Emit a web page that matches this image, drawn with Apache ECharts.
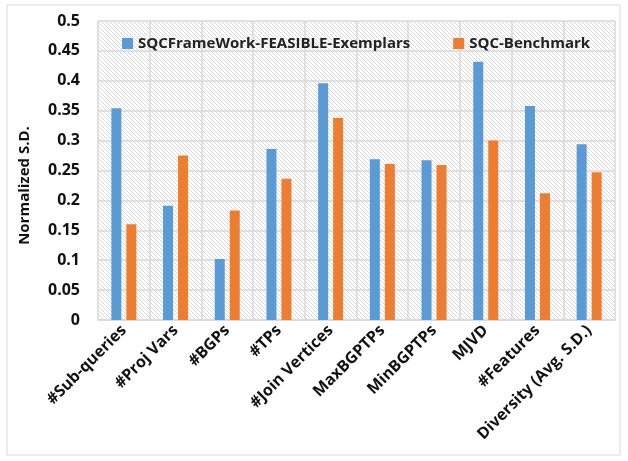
<!DOCTYPE html>
<html><head><meta charset="utf-8">
<script src="https://cdn.jsdelivr.net/npm/echarts@6/dist/echarts.min.js"></script>
<style>html,body{margin:0;padding:0;background:#fff}#c{width:628px;height:461px}</style>
</head><body><div id="c"></div>
<script>
const categories = ['#Sub-queries','#Proj Vars','#BGPs','#TPs','#Join Vertices','MaxBGPTPs','MinBGPTPs','MJVD','#Features','Diversity (Avg. S.D.)'];
const feasible = [0.354,0.191,0.102,0.286,0.396,0.269,0.267,0.432,0.358,0.294];
const benchmark = [0.160,0.275,0.183,0.236,0.338,0.261,0.259,0.300,0.212,0.247];
const yTicks = ['0','0.05','0.1','0.15','0.2','0.25','0.3','0.35','0.4','0.45','0.5'];

const pc = document.createElement('canvas');
pc.width = 4; pc.height = 4;
const g = pc.getContext('2d');
g.fillStyle = '#ffffff'; g.fillRect(0,0,4,4);
g.strokeStyle = '#dadada'; g.lineWidth = 1;
g.beginPath(); g.moveTo(-1,-1); g.lineTo(5,5); g.stroke();
g.beginPath(); g.moveTo(-1,3); g.lineTo(1,5); g.stroke();
g.beginPath(); g.moveTo(3,-1); g.lineTo(5,1); g.stroke();

const chart = echarts.init(document.getElementById('c'));
const font = '"Open Sans", sans-serif';
chart.setOption({
  animation:false,
  backgroundColor:'#fff',
  graphic:[{type:'rect',shape:{x:7,y:5,width:613,height:450},style:{fill:'none',stroke:'#d9d9d9',lineWidth:1},silent:true}],
  legend:{top:31,left:117,itemWidth:11,itemHeight:11,itemGap:43,icon:'rect',
    textStyle:{fontFamily:font,fontWeight:'bold',fontSize:15,color:'#222'},
    data:['SQCFrameWork-FEASIBLE-Exemplars','SQC-Benchmark']},
  grid:{left:98,right:13,top:21,bottom:141,show:true,backgroundColor:{image:pc,repeat:'repeat'},borderWidth:0},
  xAxis:{type:'category',data:categories,
    axisLine:{lineStyle:{color:'#d9d9d9',width:1.5}},axisTick:{show:false},
    splitLine:{show:true,interval:0,lineStyle:{color:'#d9d9d9',width:1.5}},
    axisLabel:{interval:0,rotate:45,fontFamily:font,fontWeight:'bold',fontSize:16,color:'#111',margin:8}},
  yAxis:{type:'value',min:0,max:0.5,interval:0.05,
    name:'Normalized S.D.',nameLocation:'middle',nameGap:66,nameRotate:90,
    nameTextStyle:{fontFamily:font,fontWeight:'bold',fontSize:15,color:'#111',padding:[0,30,0,0]},
    axisLine:{show:false},axisTick:{show:false},
    splitLine:{lineStyle:{color:'#d9d9d9',width:1.5}},
    axisLabel:{fontFamily:font,fontWeight:'bold',fontSize:16,color:'#111',margin:18,
      formatter:(v,i)=>yTicks[i]}},
  series:[
    {name:'SQCFrameWork-FEASIBLE-Exemplars',type:'bar',data:feasible,barWidth:10,barGap:'50%',itemStyle:{color:'#5b9bd5'}},
    {name:'SQC-Benchmark',type:'bar',data:benchmark,barWidth:10,itemStyle:{color:'#ed7d31'}}
  ]
});
</script></body></html>
